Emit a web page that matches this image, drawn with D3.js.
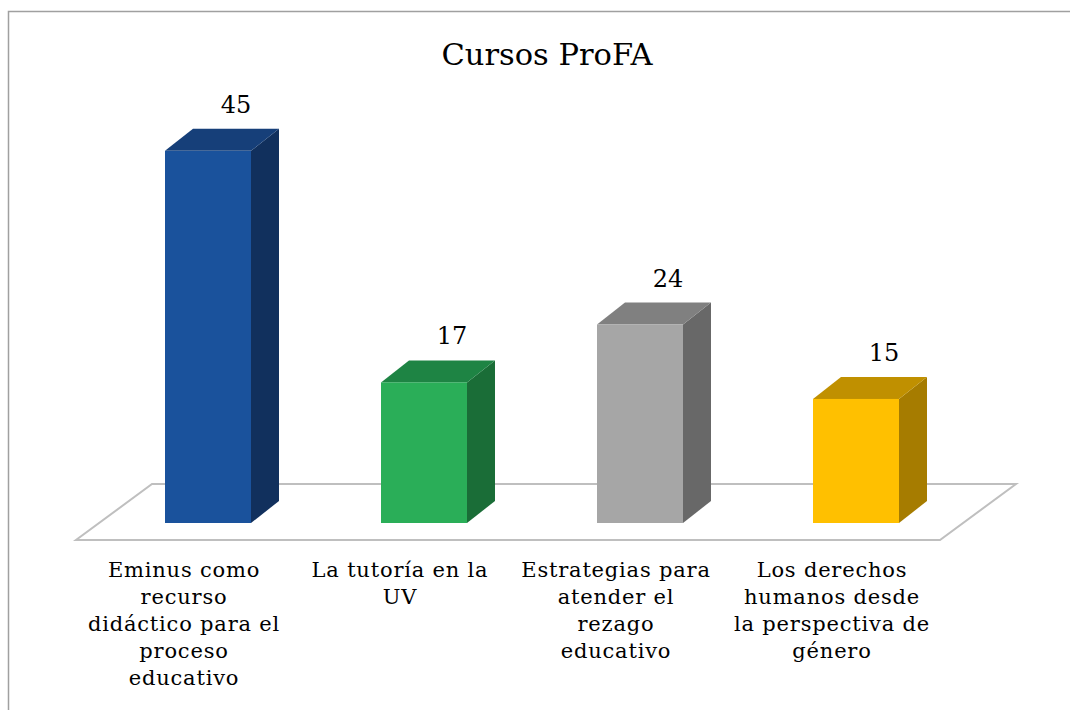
<!DOCTYPE html>
<html>
<head>
<meta charset="utf-8">
<script src="https://cdn.jsdelivr.net/npm/d3@7"></script>
<style>
  body{margin:0;background:#fff;}
  svg{display:block;}
  text{font-family:"DejaVu Serif",serif;fill:#000;}
</style>
</head>
<body>
<svg id="chart" width="1070" height="710"></svg>
<script>
// data
const categories=["Eminus como\nrecurso\ndidáctico para el\nproceso\neducativo","La tutoría en la\nUV","Estrategias para\natender el\nrezago\neducativo","Los derechos\nhumanos desde\nla perspectiva de\ngénero"];
const values=[45,17,24,15];
const title="Cursos ProFA";
const fronts=["#1a529c","#2aae58","#a6a6a6","#ffc000"];
const sides=["#11305d","#1a6d37","#686868","#a67c00"];
const tops=["#163f79","#1e8444","#808080","#c09000"];

const svg=d3.select("#chart");
const floorY=540,floorL=76,floorR=940,fdx=76,fdy=-56;
const bdx=28,bdy=-22,barW=86;

// frame
svg.append("path").attr("d","M8.5,710 V11.5 H1070").attr("fill","none").attr("stroke","#a0a0a0").attr("stroke-width",1.5);

svg.append("text").attr("x",547).attr("y",65).attr("text-anchor","middle").style("font-size","30.5px").text(title);

const x=d3.scaleBand().domain(categories).range([floorL,floorR]);
const baseY=floorY+fdy/2-bdy/2; // front bottom of bars
const y=d3.scaleLinear().domain([0,50]).range([baseY,baseY-8.27*50]);

// floor
svg.append("path")
  .attr("d","M"+floorL+","+floorY+" L"+floorR+","+floorY+" L"+(floorR+fdx)+","+(floorY+fdy)+" L"+(floorL+fdx)+","+(floorY+fdy)+" Z")
  .attr("fill","#fff").attr("stroke","#bfbfbf").attr("stroke-width",2);

const bars=svg.append("g").selectAll("g").data(values).enter().append("g");
function fx(i){return x(categories[i])+x.bandwidth()/2+fdx/2-bdx/2-barW/2;}
bars.append("path").attr("fill",(d,i)=>sides[i])
  .attr("d",(d,i)=>{const x0=fx(i)+barW;return "M"+x0+","+baseY+" L"+(x0+bdx)+","+(baseY+bdy)+" L"+(x0+bdx)+","+(y(d)+bdy)+" L"+x0+","+y(d)+" Z";});
bars.append("path").attr("fill",(d,i)=>tops[i])
  .attr("d",(d,i)=>{const x0=fx(i);return "M"+x0+","+y(d)+" L"+(x0+barW)+","+y(d)+" L"+(x0+barW+bdx)+","+(y(d)+bdy)+" L"+(x0+bdx)+","+(y(d)+bdy)+" Z";});
bars.append("rect").attr("fill",(d,i)=>fronts[i])
  .attr("x",(d,i)=>fx(i)).attr("y",d=>y(d)).attr("width",barW).attr("height",d=>baseY-y(d));
bars.append("text").attr("text-anchor","middle").style("font-size","24px")
  .attr("x",(d,i)=>fx(i)+barW/2+bdx).attr("y",d=>y(d)+bdy-16).text(d=>d);

// category labels
const labels=svg.append("g").selectAll("text").data(categories).enter().append("text")
  .attr("text-anchor","middle").style("font-size","21px").style("letter-spacing","0.8px")
  .attr("x",d=>x(d)+x.bandwidth()/2).attr("y",577);
labels.selectAll("tspan").data(d=>d.split("\n")).enter().append("tspan")
  .attr("x",function(){return d3.select(this.parentNode).attr("x");})
  .attr("dy",(d,i)=>i?27:0).text(d=>d);
</script>
</body>
</html>
